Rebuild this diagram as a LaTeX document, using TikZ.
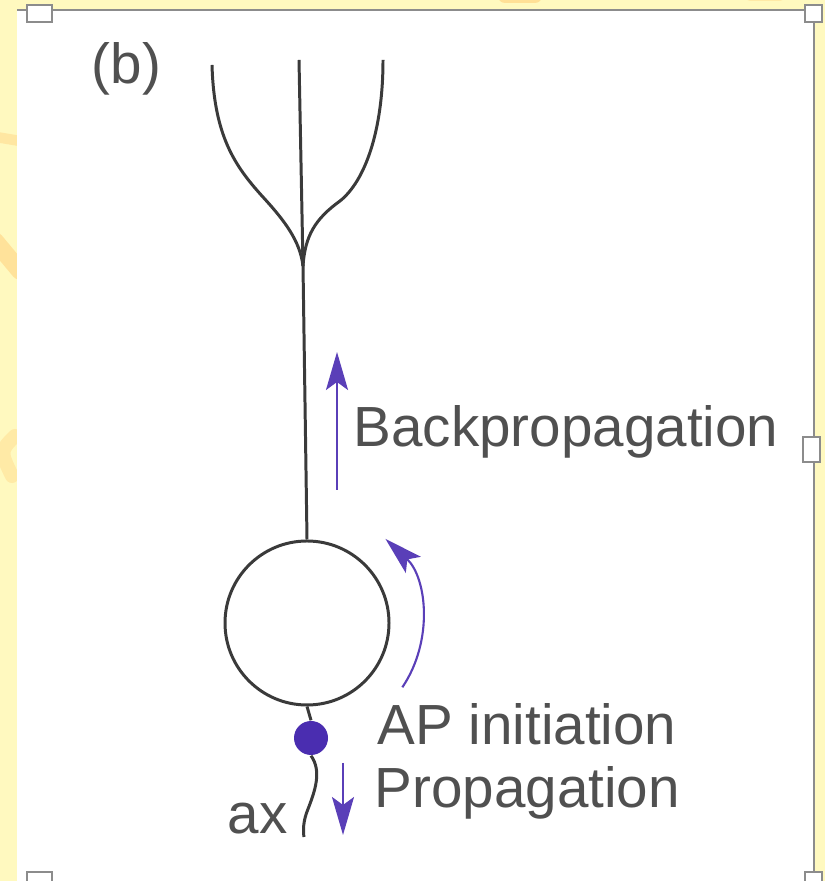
\documentclass[tikz,border=0pt]{standalone}
\usepackage{fontspec}
\setmainfont{Liberation Sans}
\usetikzlibrary{arrows.meta}

\definecolor{paper}{HTML}{FFF9BF}
\definecolor{streak}{HTML}{FFC86E}
\definecolor{frame}{HTML}{8C8C8C}
\definecolor{ink}{HTML}{3A3A3A}
\definecolor{labelgray}{HTML}{505050}
\definecolor{spike}{HTML}{5A3FB8}
\definecolor{hillock}{HTML}{4A2DB0}

\begin{document}
\begin{tikzpicture}[
  neurite/.style={ink, line width=0.85pt},
  flow/.style={spike, line width=0.6pt, -{Stealth[length=3.8mm,width=2.2mm,inset=0.8mm]}},
  lbl/.style={inner sep=0, text=labelgray, font=\fontsize{16.1}{19}\selectfont},
  handle/.style={draw=frame, fill=white, line width=0.6pt}
]
  \useasboundingbox (0, 0) rectangle (8.25, 8.81);

  % yellow backdrop with a few soft orange strokes
  \fill[paper] (0, 0) rectangle (8.25, 8.81);
  \draw[streak, line width=3pt, opacity=0.35, line cap=round] (-0.1, 7.45) -- (0.2, 7.40);
  \draw[streak, line width=5pt, opacity=0.45, line cap=round] (-0.05, 6.40) -- (0.2, 6.10);
  \draw[streak, line width=4pt, opacity=0.3, line cap=round] (0.15, 4.45) .. controls (0.0, 4.3) .. (0.12, 4.05);
  \draw[streak, line width=4pt, opacity=0.5, line cap=round] (5.05, 8.85) -- (5.35, 8.85);
  \draw[streak, line width=3pt, opacity=0.3, line cap=round] (7.5, 8.85) -- (7.8, 8.85);

  % white panel
  \fill[white] (0.17, 0) rectangle (8.14, 8.71);
  \draw[frame, line width=0.6pt] (0.17, 8.71) -- (8.14, 8.71) -- (8.14, 0);
  \draw[handle] (0.27, 8.59) rectangle (0.52, 8.76);
  \draw[handle] (8.05, 8.59) rectangle (8.22, 8.76);
  \draw[handle] (8.03, 4.19) rectangle (8.20, 4.44);
  \draw[handle] (0.27, -0.1) rectangle (0.52, 0.09);
  \draw[handle] (8.05, -0.1) rectangle (8.22, 0.09);

  \node[lbl, anchor=base west] (panel) at (0.91, 7.97) {(b)};

  % apical tuft
  \coordinate (J) at (3.03, 6.15);
  \coordinate (TL) at (2.12, 8.16);
  \coordinate (TM) at (2.99, 8.21);
  \coordinate (TR) at (3.83, 8.21);
  \draw[neurite] (TL) .. controls (2.14, 7.45) and (2.35, 7.15) .. (2.62, 6.85)
    .. controls (2.85, 6.60) and (3.00, 6.40) .. (J);
  \draw[neurite] (TR) .. controls (3.83, 7.50) and (3.65, 7.00) .. (3.40, 6.80)
    .. controls (3.15, 6.62) and (3.05, 6.45) .. (J);
  \draw[neurite] (TM) -- (J);

  % soma, hillock and axon
  \node[circle, draw=ink, line width=0.85pt, minimum size=1.64cm, inner sep=0] (soma) at (3.07, 2.58) {};
  \node[circle, fill=hillock, minimum size=0.34cm, inner sep=0] (ais) at (3.11, 1.43) {};
  \coordinate (axend) at (3.04, 0.44);

  \draw[neurite] (J) -- (soma.north);
  \draw[neurite] (soma.south) -- (ais.north);
  \draw[neurite] (ais.south) .. controls (3.22, 1.10) and (3.15, 0.90) .. (3.08, 0.72)
    .. controls (3.03, 0.60) and (3.03, 0.50) .. (axend);
  \node[lbl, anchor=base east] (AX) at (2.88, 0.48) {ax};

  % direction of the spike
  \coordinate (B0) at (3.37, 3.91);
  \coordinate (B1) at (3.37, 5.29);
  \draw[flow] (B0) -- (B1);
  \node[lbl, anchor=base west] (BL) at (3.53, 4.34) {Backpropagation};

  \draw[flow] ([shift={(-34:1.15)}]soma.center) arc[start angle=-34, end angle=47, radius=1.15];
  \node[lbl, anchor=base west] (IL) at (3.77, 1.36) {AP initiation};

  \coordinate (P0) at (3.43, 1.18);
  \coordinate (P1) at (3.43, 0.46);
  \draw[flow] (P0) -- (P1);
  \node[lbl, anchor=base west] (PL) at (3.74, 0.73) {Propagation};
\end{tikzpicture}
\end{document}
